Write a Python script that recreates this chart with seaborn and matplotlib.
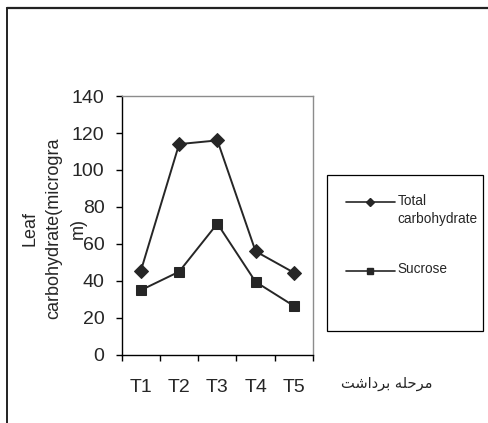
import matplotlib
matplotlib.use("Agg")
import matplotlib.pyplot as plt
from matplotlib.lines import Line2D
from matplotlib.legend_handler import HandlerLine2D
import seaborn as sns
import pandas as pd

stages = ["T1", "T2", "T3", "T4", "T5"]
total_carb = [45.5, 114, 116, 56, 44.5]
sucrose = [35, 45, 71, 39.5, 26.5]
series_names = ["Total\ncarbohydrate", "Sucrose"]
y_ticks = [0, 20, 40, 60, 80, 100, 120, 140]

# Persian x-axis title "مرحله برداشت", pre-shaped into presentation forms (visual order)
x_title = "\uFE96\uFEB7\uFE8D\uFEA9\uFEAE\uFE91 \uFEEA\uFEE0\uFEA3\uFEAE\uFEE3"

df = pd.DataFrame({
    "stage": stages * 2,
    "value": total_carb + sucrose,
    "series": [series_names[0]] * len(stages) + [series_names[1]] * len(stages),
})

sns.set_theme(style="white")
plt.rcParams["font.family"] = ["Liberation Sans", "DejaVu Sans"]

fig = plt.figure(figsize=(4.89, 4.23), dpi=100)
ax = fig.add_axes([0.249, 0.161, 0.391, 0.612])

dark = "#262626"
sns.lineplot(data=df, x="stage", y="value", hue="series", style="series",
             markers={series_names[0]: "D", series_names[1]: "s"}, dashes=False,
             palette=[dark, dark], linewidth=1.4, markersize=7.5,
             markeredgecolor=dark, ax=ax, legend=False, sort=False)

ax.set_xlim(-0.5, len(stages) - 0.5)
ax.set_ylim(0, 140)
ax.set_yticks(y_ticks)
ax.set_yticklabels([str(v) for v in y_ticks])
ax.tick_params(axis="y", which="major", direction="out", length=4, width=1,
               color="black", pad=8.5, labelsize=14, left=True)

ax.set_xticks([i - 0.5 for i in range(len(stages) + 1)])
ax.set_xticklabels([""] * (len(stages) + 1))
ax.set_xticks(range(len(stages)), minor=True)
ax.set_xticklabels(stages, minor=True)
ax.tick_params(axis="x", which="major", direction="out", length=4, width=1,
               color="black", bottom=True)
ax.tick_params(axis="x", which="minor", length=0, pad=17, labelsize=14)

ax.set_xlabel("")
ax.set_ylabel("Leaf\ncarbohydrate(microgra\nm)", fontsize=13, linespacing=1.55,
              va="center", ha="center")
ax.yaxis.set_label_coords(-0.355, 0.49)

for side in ["left", "bottom"]:
    ax.spines[side].set_color("black")
    ax.spines[side].set_linewidth(1.0)
for side in ["top", "right"]:
    ax.spines[side].set_color("#8c8c8c")
    ax.spines[side].set_linewidth(1.0)
ax.grid(False)


class ShiftedHandler(HandlerLine2D):
    """Line handle aligned with the first line of a multi-line label."""

    def __init__(self, shift, **kw):
        super().__init__(**kw)
        self.shift = shift

    def create_artists(self, legend, orig_handle, xdescent, ydescent, width,
                       height, fontsize, trans):
        artists = super().create_artists(legend, orig_handle, xdescent, ydescent,
                                         width, height, fontsize, trans)
        for a in artists:
            a.set_ydata([y + self.shift for y in a.get_ydata()])
        return artists


h_total = Line2D([], [], color=dark, marker="D", markersize=4.5, linewidth=1.2)
h_suc = Line2D([], [], color=dark, marker="s", markersize=4.5, linewidth=1.2)
leg_labels = [series_names[0], series_names[1] + "\n \n "]
leg = ax.legend([h_total, h_suc], leg_labels, loc="upper left",
                bbox_to_anchor=(0.669, 0.215, 0.319, 0.371),
                bbox_transform=fig.transFigure, mode="expand",
                frameon=True, fancybox=False, shadow=False, framealpha=1,
                edgecolor="black", fontsize=9.8, labelspacing=2.65,
                borderpad=1.36, handlelength=3.6, handletextpad=0.2,
                borderaxespad=0,
                handler_map={h_total: ShiftedHandler(6.1),
                             h_suc: ShiftedHandler(12.2)})
leg.get_frame().set_linewidth(0.9)
for t in leg.get_texts():
    t.set_linespacing(1.4)

fig.text(0.791, 0.094, x_title, family="DejaVu Sans", fontsize=10.5,
         ha="center", va="center")

# Outer frame of the original picture (left and top edges)
fig.add_artist(Line2D([7 / 489, 7 / 489], [0, 1 - 8.5 / 423],
                      transform=fig.transFigure, color="#111111", linewidth=1.3))
fig.add_artist(Line2D([7 / 489, 1], [1 - 8.5 / 423, 1 - 8.5 / 423],
                      transform=fig.transFigure, color="#222222", linewidth=1.6))

fig.savefig("out.png", dpi=100)
